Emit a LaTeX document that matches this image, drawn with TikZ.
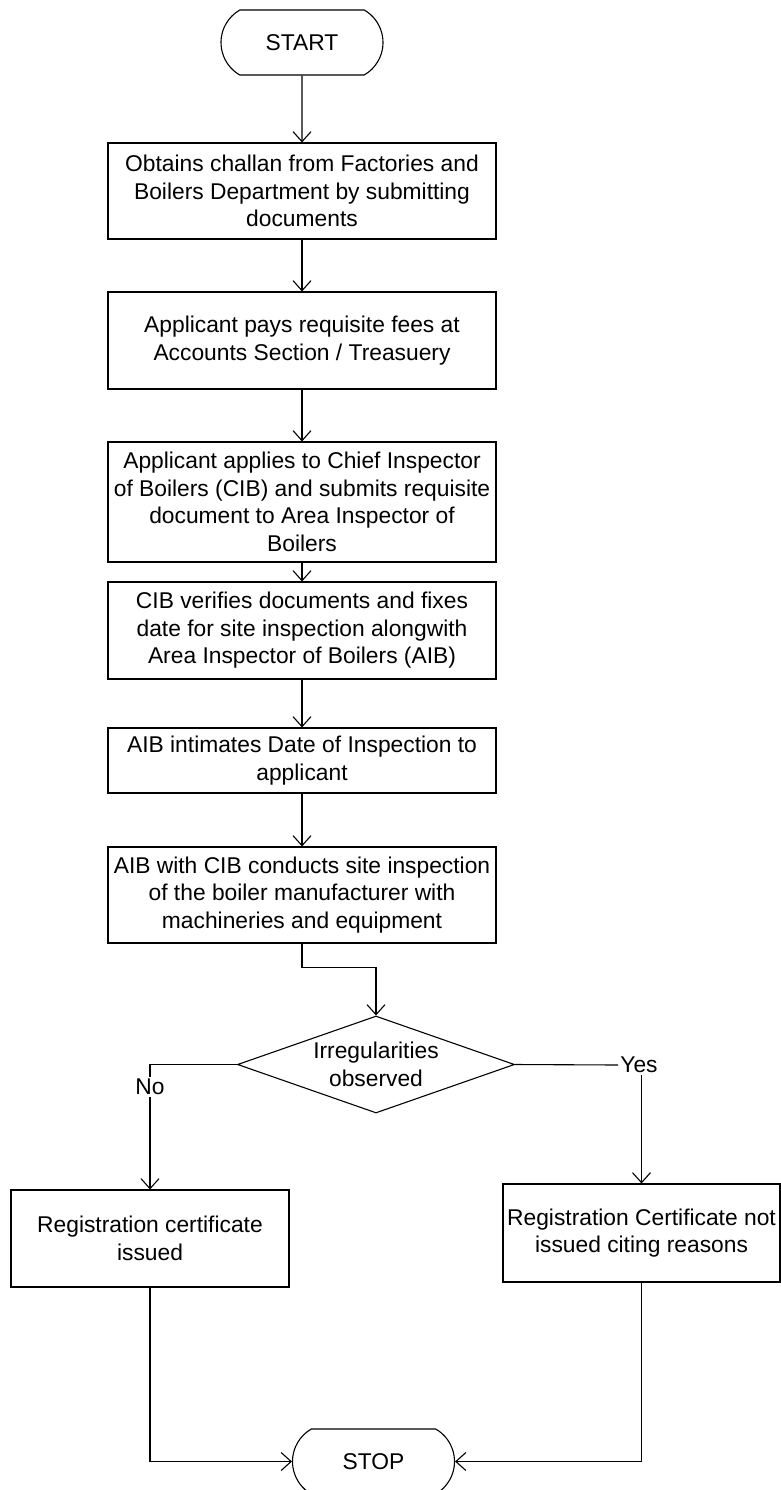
\documentclass[tikz,border=0pt]{standalone}
\usepackage{fontspec}
\setmainfont{Liberation Sans}
\usetikzlibrary{arrows.meta,shapes.geometric,shapes.misc}
\begin{document}
\begin{tikzpicture}[x=1pt,y=-1pt,
  every node/.style={font=\fontsize{22.8}{27.5}\selectfont},
  proc/.style={draw, line width=1.1pt, rectangle, align=center, inner sep=0pt, minimum width=388pt},
  term/.style={draw, line width=1.1pt, rounded rectangle, rounded rectangle arc length=120, minimum width=162pt, minimum height=65pt, inner sep=0pt},
  decis/.style={draw, line width=1.1pt, diamond, aspect=2.86, minimum width=277pt, minimum height=97pt, inner sep=0pt, align=center},
  lbl/.style={inner sep=2pt},
  arr/.style={-{Straight Barb[length=10pt,width=18pt]}, line width=1.1pt},
  ln/.style={line width=1.1pt}]
\useasboundingbox (0,0) rectangle (781,1490);

\node[term] (start) at (302,42.5) {START};
\node[proc, minimum height=96pt] (b1) at (302,191) {Obtains challan from Factories and\\Boilers Department by submitting\\documents};
\node[proc, minimum height=97pt] (b2) at (302,340.5) {Applicant pays requisite fees at\\Accounts Section / Treasuery};
\node[proc, minimum height=120pt] (b3) at (302,502) {Applicant applies to Chief Inspector\\of Boilers (CIB) and submits requisite\\document to Area Inspector of\\Boilers};
\node[proc, minimum height=97pt] (b4) at (302,630.5) {CIB verifies documents and fixes\\date for site inspection alongwith\\Area Inspector of Boilers (AIB)};
\node[proc, minimum height=65pt] (b5) at (302,760.5) {AIB intimates Date of Inspection to\\applicant};
\node[proc, minimum height=96pt] (b6) at (302,895) {AIB with CIB conducts site inspection\\of the boiler manufacturer with\\machineries and equipment};
\node[decis] (dec) at (376,1064.5) {Irregularities\\observed};
\node[lbl] (no) at (150,1087) {No};
\node[lbl] (yes) at (639,1065) {Yes};
\node[proc, minimum width=278pt, minimum height=97pt] (b7) at (150,1238.5) {Registration certificate\\issued};
\node[proc, minimum width=277pt, minimum height=98pt] (b8) at (641.5,1233) {Registration Certificate not\\issued citing reasons};
\node[term] (stop) at (373.5,1461.5) {STOP};

\draw[arr] (start) -- (b1);
\draw[arr] (b1) -- (b2);
\draw[arr] (b2) -- (b3);
\draw[arr] (b3) -- (b4);
\draw[arr] (b4) -- (b5);
\draw[arr] (b5) -- (b6);
\draw[arr] (b6.south) -- ++(0,24) -| (dec.north);
\draw[ln] (dec.west) -| (no.north);
\draw[arr] (no.south) -- (b7.north);
\draw[ln] (dec.east) -- (yes.west);
\draw[arr] (yes.south -| b8.north) -- (b8.north);
\draw[arr] (b7.south) |- (stop.west);
\draw[arr] (b8.south) |- (stop.east);
\end{tikzpicture}
\end{document}
